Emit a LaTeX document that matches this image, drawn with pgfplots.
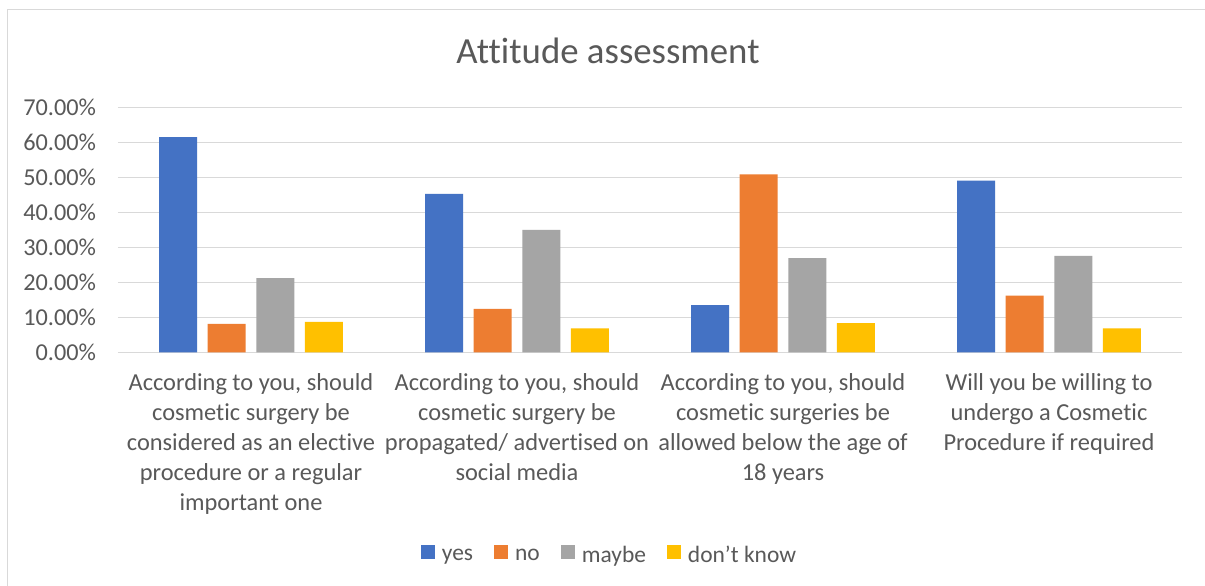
\documentclass[border=0pt]{standalone}
\usepackage{pgfplots}
\pgfplotsset{compat=1.18}
\usepackage{fontspec}
\setmainfont{Carlito}[Ligatures={NoCommon}]
\definecolor{cblue}{HTML}{4472C4}
\definecolor{corange}{HTML}{ED7D31}
\definecolor{cgray}{HTML}{A5A5A5}
\definecolor{cyellow}{HTML}{FFC000}
\definecolor{txt}{HTML}{595959}
\definecolor{gridc}{HTML}{D9D9D9}
\begin{document}
\begin{tikzpicture}
\useasboundingbox (0,0) rectangle (903.75pt,-438.75pt);
\fill[white] (0,0) rectangle (903.75pt,-438.75pt);
\draw[gridc, line width=0.75pt] (5.25pt,-460pt) -- (5.25pt,-7.1pt) -- (910pt,-7.1pt);
\node[anchor=base, text=txt, inner sep=0pt, font=\fontsize{27.6}{33}\selectfont] at (456pt,-48pt) {Attitude assessment};
\begin{axis}[
  at={(88.5pt,-264.2pt)}, anchor=south west,
  scale only axis, width=798pt, height=183.6pt,
  ybar=7.9pt, bar width=28.5pt,
  xmin=-0.5, xmax=3.5, ymin=0, ymax=70,
  enlargelimits=false,
  xtick={0,1,2,3},
  xticklabels={
    {According to you, should\\cosmetic surgery be\\considered as an elective\\procedure or a regular\\important one},
    {According to you, should\\cosmetic surgery be\\propagated/ advertised on\\social media},
    {According to you, should\\cosmetic surgeries be\\allowed below the age of\\18 years},
    {Will you be willing to\\undergo a Cosmetic\\Procedure if required}},
  ytick={0,10,...,70},
  ymajorgrids, grid style={gridc, line width=0.75pt},
  axis line style={draw=none},
  major tick length=0pt,
  tick label style={text=txt},
  yticklabel style={font=\fontsize{18.2}{22.5}\selectfont},
  /pgf/number format/assume math mode=true,
  yticklabel={\pgfmathprintnumber[fixed,fixed zerofill,precision=2]{\tick}\%},
  yticklabel style={anchor=east, xshift=-13pt},
  xticklabel style={align=center, anchor=north, yshift=-12.5pt, font=\fontsize{18.3}{22.5}\selectfont},
  legend style={at={(0.4624,-0.83)}, anchor=center, draw=none, fill=none,
    legend columns=4, text=txt, font=\fontsize{17.6}{22.5}\selectfont,
    /tikz/every odd column/.append style={column sep=3pt},
    /tikz/every even column/.append style={column sep=14pt},
    legend cell align=left},
]
\pgfplotsset{sq/.style={draw=none, legend image code/.code={\fill[##1] (0pt,-3pt) rectangle (10.5pt,7.5pt);}}}
\addplot[fill=cblue, sq] coordinates {(0,61.5) (1,45.3) (2,13.5) (3,49.1)};
\addplot[fill=corange, sq] coordinates {(0,8.1) (1,12.4) (2,50.9) (3,16.2)};
\addplot[fill=cgray, sq] coordinates {(0,21.2) (1,35.0) (2,26.9) (3,27.6)};
\addplot[fill=cyellow, sq] coordinates {(0,8.7) (1,6.8) (2,8.3) (3,6.8)};
\legend{yes, no, maybe, don’t know}
\end{axis}
\end{tikzpicture}
\end{document}
